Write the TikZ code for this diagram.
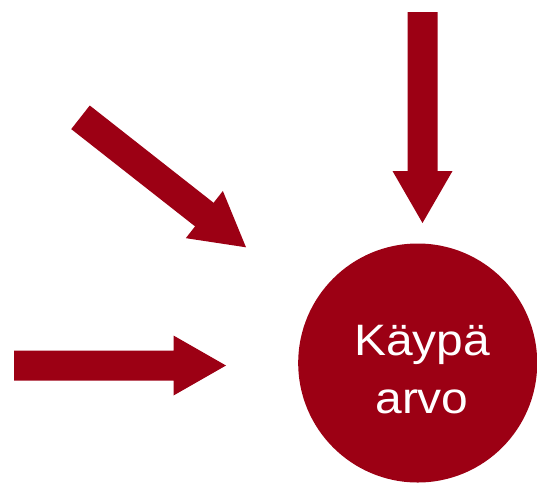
\documentclass[tikz,border=0pt]{standalone}
\usepackage{fontspec}
\setmainfont{Liberation Sans}
\newfontfamily\arvofont[FakeStretch=1.09]{Liberation Sans}
\definecolor{viininpuna}{RGB}{156,0,20}
\tikzset{
    nuoli/.style={fill=viininpuna, draw=none},
    teksti/.style={text=white, align=center, inner sep=0pt,
        font=\arvofont\fontsize{44}{58}\selectfont}
}
\begin{document}
\begin{tikzpicture}[x=1pt, y=-1pt]
        \useasboundingbox (0, 0) rectangle (537, 482);

        \coordinate (arvo) at (417.7, 363);
        \fill[viininpuna] (arvo) circle[radius=119.5];
        \node[teksti] (arvoteksti) at (422, 370) {Käypä\\arvo};

        % ylhäältä
        \fill[nuoli]
            (407.5, 12) -- (437.5, 12) -- (437.5, 171) -- (452.5, 171)
            -- (422.5, 223) -- (392.5, 171) -- (407.5, 171) -- cycle;

        % vinosti
        \fill[nuoli]
            (89.76, 105.5) -- (213.59, 202.78) -- (222.86, 190.98)
            -- (246, 247.3) -- (185.80, 238.16) -- (195.07, 226.36)
            -- (71.24, 129.1) -- cycle;

        % vasemmalta
        \fill[nuoli]
            (14, 350.5) -- (173.5, 350.5) -- (173.5, 335.5)
            -- (226, 365.5) -- (173.5, 395.5) -- (173.5, 380.5)
            -- (14, 380.5) -- cycle;
    \end{tikzpicture}
\end{document}
